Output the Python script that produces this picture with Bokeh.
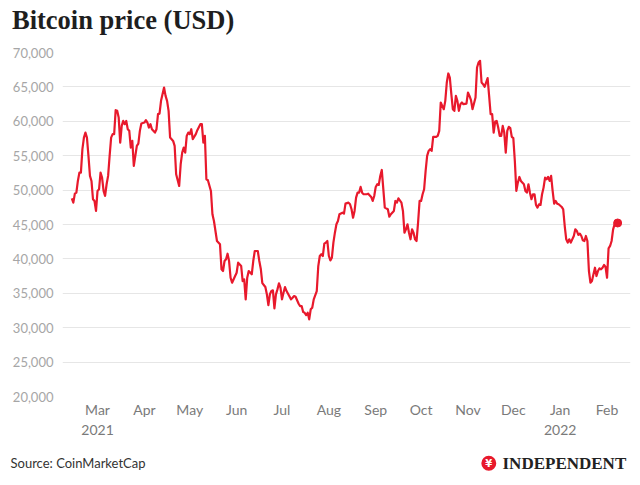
import pandas as pd
from bokeh.plotting import figure
from bokeh.models import Range1d, FixedTicker, ColumnDataSource, NumeralTickFormatter, Label
from bokeh.embed import file_html
from bokeh.resources import INLINE

# ---------------- data ----------------
dates = [
    "2021-02-12", "2021-02-13", "2021-02-14", "2021-02-15", "2021-02-16", "2021-02-17", "2021-02-18", "2021-02-19",
    "2021-02-20", "2021-02-21", "2021-02-22", "2021-02-23", "2021-02-24", "2021-02-25", "2021-02-26", "2021-02-27",
    "2021-02-28",
    "2021-03-01", "2021-03-02", "2021-03-03", "2021-03-04", "2021-03-05", "2021-03-06", "2021-03-07", "2021-03-08",
    "2021-03-09", "2021-03-10", "2021-03-11", "2021-03-12", "2021-03-13", "2021-03-14", "2021-03-15", "2021-03-16",
    "2021-03-17", "2021-03-18", "2021-03-19", "2021-03-20", "2021-03-21", "2021-03-22", "2021-03-23", "2021-03-24",
    "2021-03-25", "2021-03-26", "2021-03-27", "2021-03-28", "2021-03-29", "2021-03-30",
    "2021-04-01", "2021-04-02", "2021-04-03", "2021-04-04", "2021-04-05", "2021-04-06", "2021-04-08", "2021-04-09",
    "2021-04-10", "2021-04-11", "2021-04-12", "2021-04-14", "2021-04-15", "2021-04-16", "2021-04-17", "2021-04-18",
    "2021-04-20", "2021-04-21", "2021-04-22", "2021-04-24", "2021-04-25", "2021-04-26", "2021-04-27", "2021-04-28",
    "2021-04-29", "2021-04-30",
    "2021-05-01", "2021-05-02", "2021-05-03", "2021-05-05", "2021-05-06", "2021-05-08", "2021-05-09", "2021-05-10",
    "2021-05-11", "2021-05-12", "2021-05-13", "2021-05-15", "2021-05-16", "2021-05-17", "2021-05-19", "2021-05-21",
    "2021-05-22", "2021-05-23", "2021-05-24", "2021-05-25", "2021-05-26", "2021-05-27", "2021-05-28", "2021-05-29",
    "2021-05-31",
    "2021-06-01", "2021-06-02", "2021-06-04", "2021-06-05", "2021-06-06", "2021-06-07", "2021-06-08", "2021-06-09",
    "2021-06-11", "2021-06-12", "2021-06-13", "2021-06-15", "2021-06-16", "2021-06-17", "2021-06-18", "2021-06-20",
    "2021-06-21", "2021-06-22", "2021-06-23", "2021-06-24", "2021-06-25", "2021-06-26", "2021-06-27", "2021-06-28",
    "2021-06-29", "2021-06-30",
    "2021-07-01", "2021-07-02", "2021-07-03", "2021-07-04", "2021-07-05", "2021-07-07", "2021-07-08", "2021-07-09",
    "2021-07-10", "2021-07-12", "2021-07-13", "2021-07-14", "2021-07-15", "2021-07-16", "2021-07-17", "2021-07-18",
    "2021-07-19", "2021-07-20", "2021-07-21", "2021-07-22", "2021-07-24", "2021-07-25", "2021-07-26", "2021-07-27",
    "2021-07-28", "2021-07-29", "2021-07-30", "2021-07-31",
    "2021-08-01", "2021-08-02", "2021-08-03", "2021-08-04", "2021-08-05", "2021-08-06", "2021-08-07", "2021-08-08",
    "2021-08-10", "2021-08-11", "2021-08-12", "2021-08-14", "2021-08-15", "2021-08-16", "2021-08-17", "2021-08-18",
    "2021-08-19", "2021-08-20", "2021-08-21", "2021-08-22", "2021-08-23", "2021-08-24", "2021-08-26", "2021-08-27",
    "2021-08-29", "2021-08-30", "2021-08-31",
    "2021-09-01", "2021-09-02", "2021-09-03", "2021-09-04", "2021-09-05", "2021-09-07", "2021-09-09", "2021-09-10",
    "2021-09-11", "2021-09-13", "2021-09-14", "2021-09-15", "2021-09-16", "2021-09-18", "2021-09-19", "2021-09-20",
    "2021-09-21", "2021-09-22", "2021-09-23", "2021-09-24", "2021-09-25", "2021-09-26", "2021-09-27", "2021-09-28",
    "2021-09-29", "2021-09-30",
    "2021-10-01", "2021-10-02", "2021-10-03", "2021-10-04", "2021-10-05", "2021-10-06", "2021-10-07", "2021-10-08",
    "2021-10-09", "2021-10-11", "2021-10-12", "2021-10-13", "2021-10-14", "2021-10-15", "2021-10-16", "2021-10-17",
    "2021-10-18", "2021-10-19", "2021-10-20", "2021-10-21", "2021-10-22", "2021-10-23", "2021-10-24", "2021-10-25",
    "2021-10-26", "2021-10-27", "2021-10-28", "2021-10-29", "2021-10-31",
    "2021-11-01", "2021-11-02", "2021-11-03", "2021-11-04", "2021-11-06", "2021-11-07", "2021-11-08", "2021-11-09",
    "2021-11-10", "2021-11-11", "2021-11-12", "2021-11-13", "2021-11-14", "2021-11-15", "2021-11-16", "2021-11-17",
    "2021-11-18", "2021-11-19", "2021-11-20", "2021-11-21", "2021-11-22", "2021-11-23", "2021-11-24", "2021-11-25",
    "2021-11-26", "2021-11-27", "2021-11-28", "2021-11-29", "2021-11-30",
    "2021-12-01", "2021-12-02", "2021-12-03", "2021-12-04", "2021-12-05", "2021-12-06", "2021-12-08", "2021-12-09",
    "2021-12-10", "2021-12-11", "2021-12-12", "2021-12-13", "2021-12-14", "2021-12-15", "2021-12-16", "2021-12-17",
    "2021-12-18", "2021-12-19", "2021-12-20", "2021-12-21", "2021-12-22", "2021-12-23", "2021-12-24", "2021-12-25",
    "2021-12-26", "2021-12-27", "2021-12-28", "2021-12-29", "2021-12-30", "2021-12-31",
    "2022-01-02", "2022-01-03", "2022-01-04", "2022-01-05", "2022-01-06", "2022-01-07", "2022-01-08", "2022-01-10",
    "2022-01-11", "2022-01-12", "2022-01-13", "2022-01-14", "2022-01-15", "2022-01-16", "2022-01-17", "2022-01-18",
    "2022-01-19", "2022-01-20", "2022-01-21", "2022-01-22", "2022-01-23", "2022-01-24", "2022-01-25", "2022-01-26",
    "2022-01-27", "2022-01-28", "2022-01-29", "2022-01-30", "2022-01-31",
    "2022-02-01", "2022-02-02", "2022-02-03", "2022-02-04", "2022-02-05", "2022-02-06", "2022-02-07", "2022-02-08",
]

prices = [
    48810, 48170, 49480, 49630, 51330, 52540, 52540, 55950, 57630, 58360, 57630, 54970, 52060, 51330, 48670, 48420,
    46970,
    49880, 50120, 52540, 51810, 49880, 49150, 50850, 52060, 54970, 57630, 58130, 58130, 61620, 61520, 60540, 56900,
    59330, 60060, 59580, 60060, 58850, 58610, 56180, 57150, 53520, 54970, 56420, 56760, 58610, 59670,
    59820, 60160, 59820, 59090, 59580, 58850, 58360, 58850, 61040, 61120, 62970, 64910, 63700, 62970, 61520, 57630,
    57150, 56420, 52310, 50600, 53760, 55450, 56180, 55450, 57880, 58360,
    58130, 58850, 57400, 58130, 58710, 59580, 59580, 56900, 57880, 51580, 51430, 49880, 46490, 45510, 42600, 42120,
    38480, 38240, 39690, 39940, 40750, 39690, 37260, 36540, 37510,
    37990, 39450, 38970, 36780, 37030, 34120, 37260, 38240, 37760, 39690, 41150, 41150, 39690, 38530, 36490, 35910,
    34850, 33290, 34850, 35330, 35430, 32810, 34850, 35570, 36450, 35810,
    34120, 35080, 35910, 35330, 34930, 34120, 34350, 34600, 34500, 33480, 33150, 33150, 32270, 32170, 31840, 32170,
    31210, 32670, 32900, 34120, 35330, 38960, 40420, 40670, 40420, 42210, 42360, 42600,
    40420, 39790, 40170, 42360, 43810, 45030, 45510, 46490, 46720, 46570, 48030, 48180, 47940, 47210, 45990, 46970,
    48900, 49630, 49630, 50460, 49630, 49400, 49400, 49480, 49000, 48420, 49150,
    50460, 50850, 50750, 52060, 52930, 47450, 47210, 46140, 46490, 46970, 48420, 48180, 48810, 48180, 46970, 43810,
    44300, 45030, 43810, 42850, 44300, 43810, 42850, 42600, 45270, 48420,
    48420, 49400, 50120, 52790, 54970, 55700, 55950, 55700, 57730, 57730, 57880, 58610, 62730, 62240, 61760, 62970,
    65640, 66950, 66360, 63950, 61760, 61520, 63700, 62970, 61520, 62490, 62730, 62490, 62580,
    64180, 63700, 63070, 61760, 63450, 67820, 68550, 68790, 65640, 65400, 65010, 65640, 66280, 63700, 61040, 61040,
    58360, 59960, 60060, 59090, 57880, 57880, 59330, 58360, 55450, 58610, 59190, 59000, 57730,
    57550, 54240, 49880, 51090, 51910, 51330, 50850, 49880, 49630, 50850, 49630, 48670, 49400, 49400, 47840, 47450,
    47940, 47840, 49400, 50360, 51810, 51580, 51910, 51330, 52060, 49880, 48030, 48420, 48030, 47940,
    47550, 47210, 44780, 42850, 42360, 42850, 42360, 43330, 44300, 44060, 43480, 43670, 43330, 42700, 42600, 43330,
    42600, 38240, 36540, 36780, 37760, 38720, 37510, 38240, 38630, 38480, 38720, 39110, 38820,
    37260, 41540, 41880, 42600, 44300, 45030, 45370, 45220,
]

tick_dates = ["2021-03-01", "2021-04-01", "2021-05-01", "2021-06-01", "2021-07-01", "2021-08-01",
              "2021-09-01", "2021-10-01", "2021-11-01", "2021-12-01", "2022-01-01", "2022-02-01"]
tick_labels = ["Mar\n2021", "Apr", "May", "Jun", "Jul", "Aug", "Sep", "Oct", "Nov", "Dec", "Jan\n2022", "Feb"]
y_ticks = [20000, 25000, 30000, 35000, 40000, 45000, 50000, 55000, 60000, 65000, 70000]

title_text = "Bitcoin price (USD)"
source_text = "Source: CoinMarketCap"
brand_text = "INDEPENDENT"
logo_text = "\u2009¥\u2009"

# ---------------- styles ----------------
RED = "#e8192c"
SANS = "Lato"
SERIF = "Liberation Serif"

x = pd.to_datetime(dates)
src = ColumnDataSource(dict(date=x, price=prices))
tick_ms = [float(pd.Timestamp(d).value // 10**6) for d in tick_dates]

p = figure(width=640, height=485, x_axis_type="datetime",
           x_range=Range1d(pd.Timestamp("2021-02-05 20:00"), pd.Timestamp("2022-02-16 12:00")),
           y_range=Range1d(20000, 70000),
           output_backend="svg", toolbar_location=None,
           min_border_left=62, min_border_right=10, min_border_top=52, min_border_bottom=89)
p.outline_line_color = None
p.xgrid.visible = False
p.ygrid.grid_line_color = "#e6e6e6"
p.ygrid.grid_line_width = 1

p.yaxis.ticker = FixedTicker(ticks=y_ticks)
p.yaxis.formatter = NumeralTickFormatter(format="0,0")
p.yaxis.axis_line_color = None
p.yaxis.major_tick_line_color = None
p.yaxis.minor_tick_line_color = None
p.yaxis.major_label_text_font = SANS
p.yaxis.major_label_text_font_size = "13px"
p.yaxis.major_label_text_color = "#a6a6a6"
p.yaxis.major_label_standoff = 3

p.xaxis.ticker = FixedTicker(ticks=tick_ms)
p.xaxis.major_label_overrides = dict(zip(tick_ms, tick_labels))
p.xaxis.axis_line_color = None
p.xaxis.major_tick_line_color = None
p.xaxis.minor_tick_line_color = None
p.xaxis.major_label_text_font = SANS
p.xaxis.major_label_text_font_size = "14px"
p.xaxis.major_label_text_color = "#7a7a7a"
p.xaxis.major_label_standoff = -2

p.line(x="date", y="price", source=src, line_color=RED, line_width=2.2, line_join="round")
p.scatter(x=[x[-1]], y=[prices[-1]], size=8, color=RED)

# panel above the frame: brand (nearest the frame, shifted down to the footer), then the title
p.add_layout(Label(x=440, y=-410.8, x_units="screen", y_units="screen", text=brand_text,
                   text_font=SERIF, text_font_style="bold", text_font_size="17px",
                   text_color="#222222", text_baseline="alphabetic"), "above")
p.add_layout(Label(x=-50.5, y=13.9, x_units="screen", y_units="screen", text=title_text,
                   text_font=SERIF, text_font_style="bold", text_font_size="26.5px",
                   text_color="#1e1e1e", text_baseline="alphabetic"), "above")

# panel below the x axis: source, then the round logo
p.add_layout(Label(x=-52, y=-14.5, x_units="screen", y_units="screen", text=source_text,
                   text_font=SANS, text_font_size="13px", text_color="#333333"), "below")
p.add_layout(Label(x=426.3, y=8.3, x_units="screen", y_units="screen", text=logo_text,
                   text_font="DejaVu Sans", text_font_style="bold", text_font_size="10px",
                   text_color="white", text_align="center", text_baseline="middle",
                   background_fill_color=RED, padding=2, border_radius=8), "below")

open("out.html", "w").write(file_html(p, INLINE))
